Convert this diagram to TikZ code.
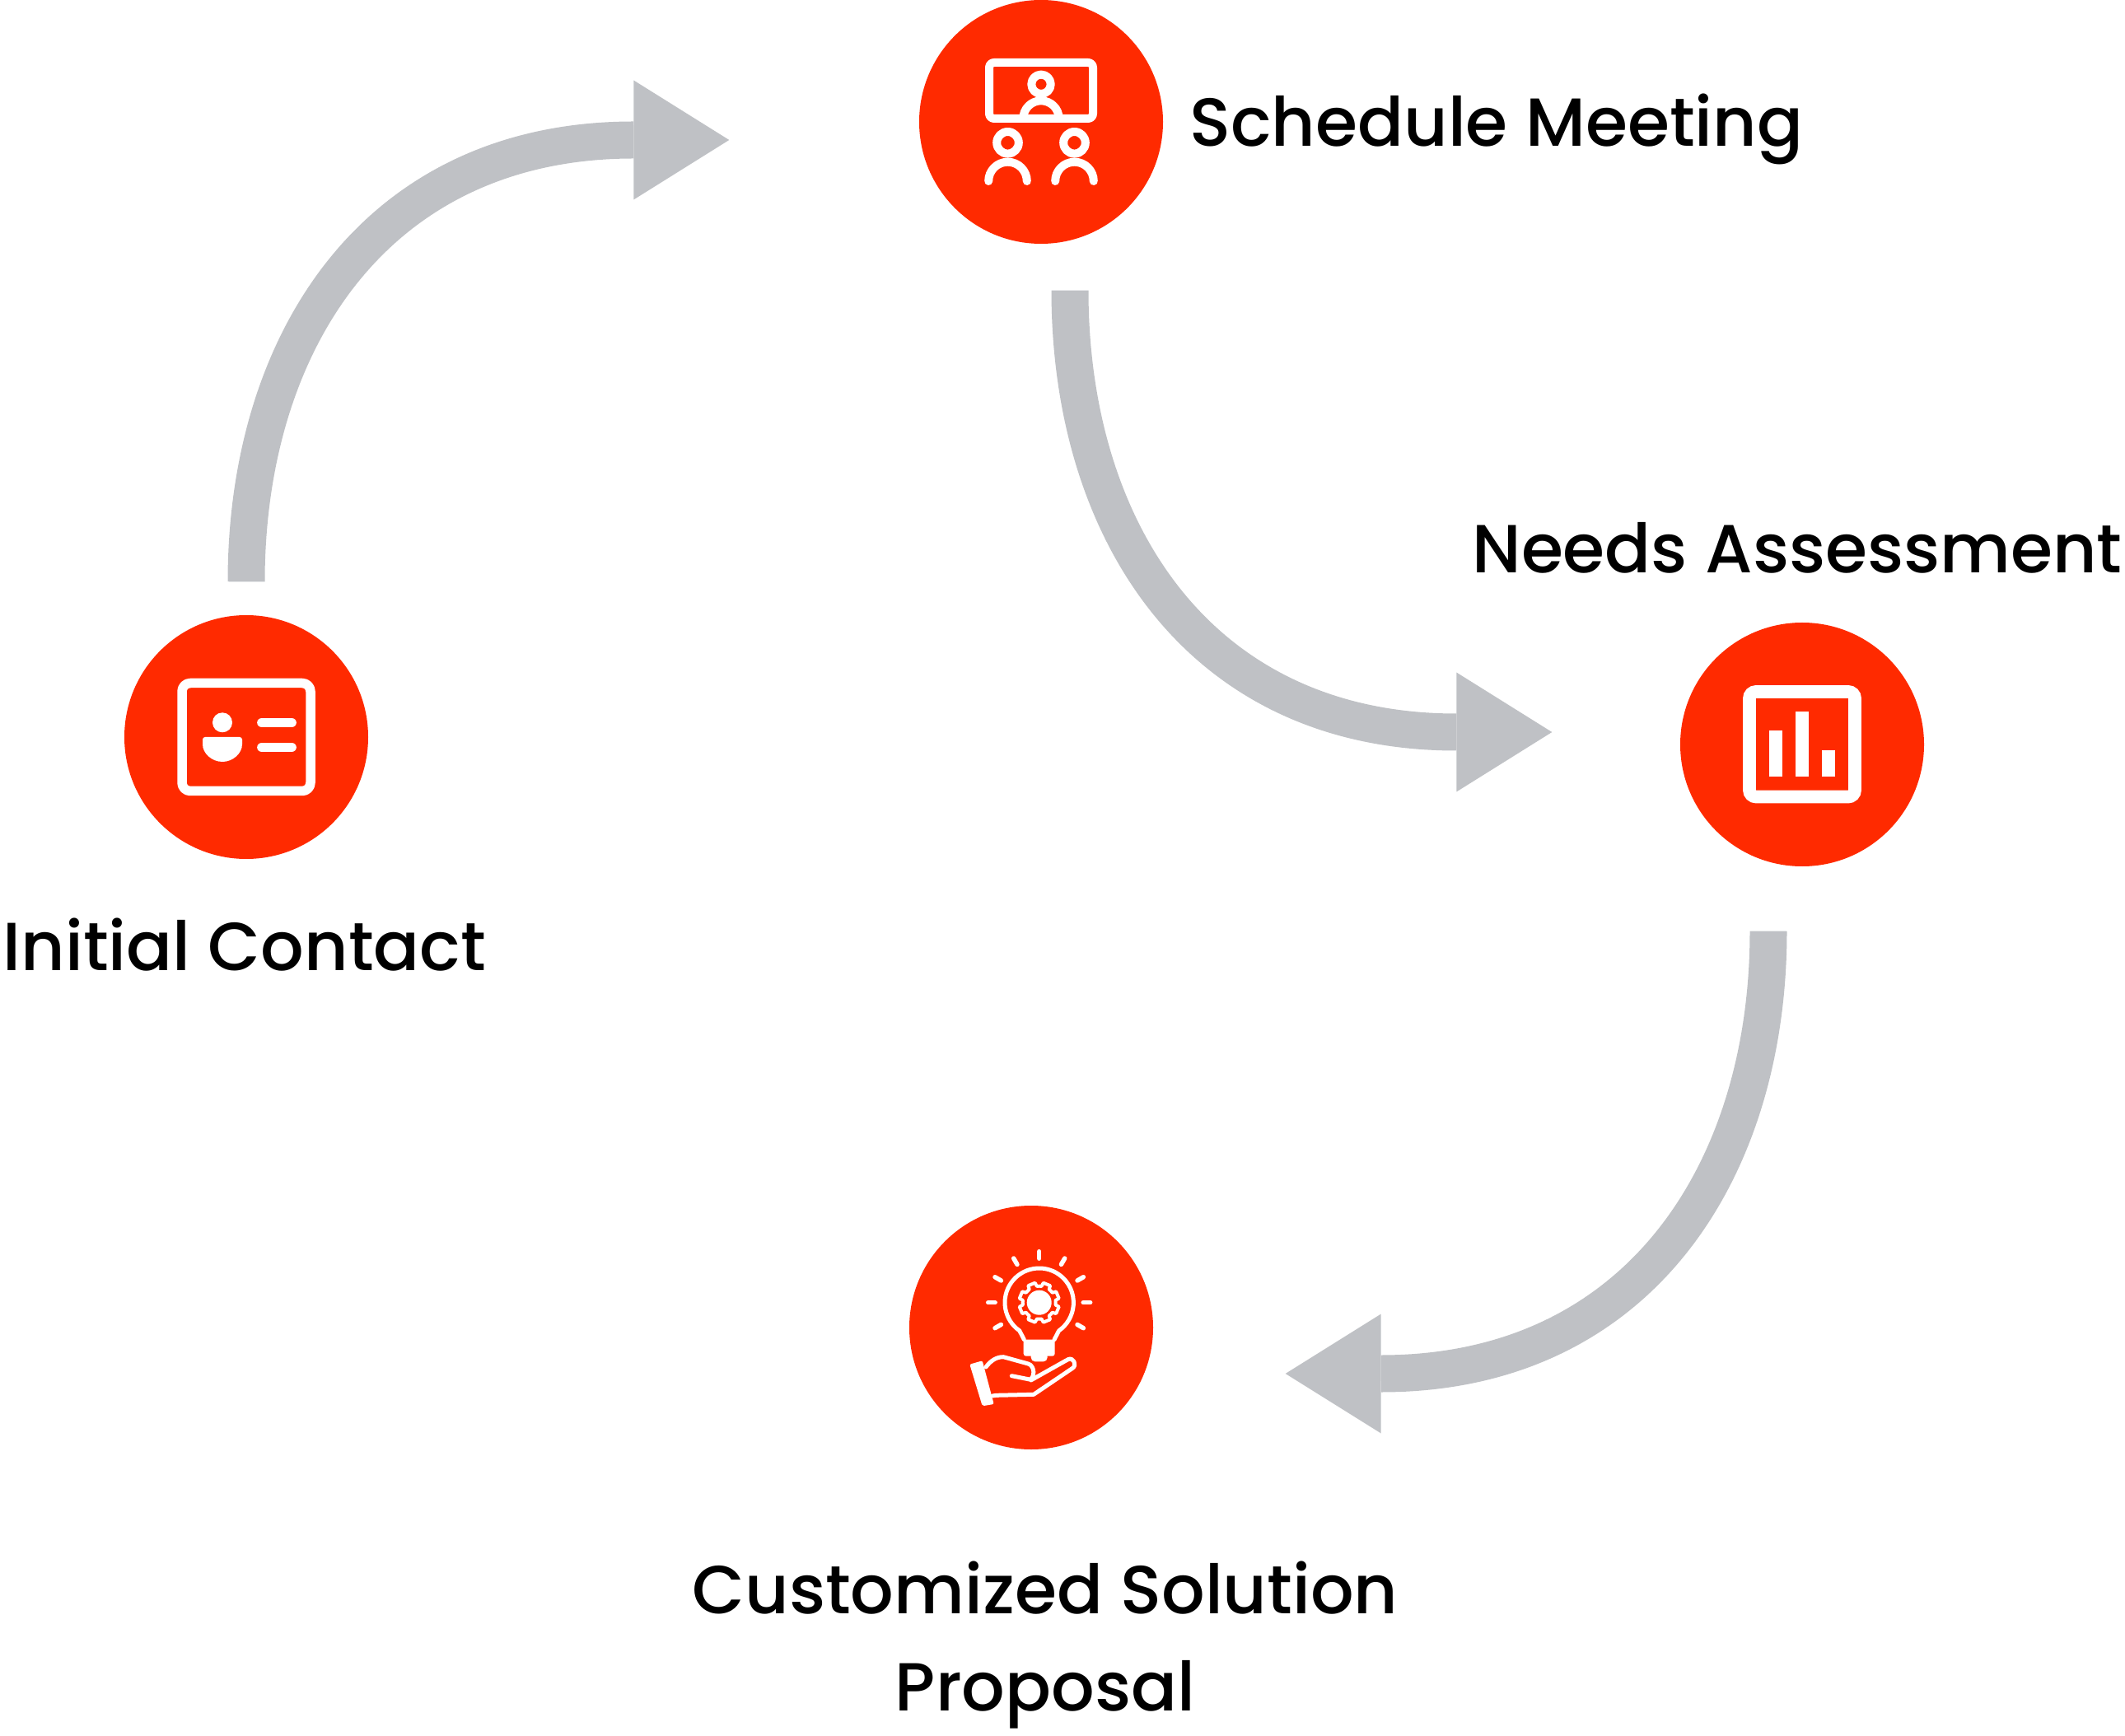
\documentclass[tikz,border=0pt]{standalone}
\usepackage{fontspec}
\setmainfont{Poppins}[UprightFont=* Medium]
\usetikzlibrary{arrows.meta,positioning}
\definecolor{signal}{RGB}{255,42,0}
\definecolor{pfeilgrau}{RGB}{191,193,197}

\begin{document}
\begin{tikzpicture}[
    stage/.style={circle, fill=signal, minimum size=2.96cm, inner sep=0pt},
    flow/.style={pfeilgrau, line width=0.45cm, -{Triangle[length=1.16cm, width=1.45cm, line width=0pt]}},
    lbl/.style={font=\fontsize{23.5}{33.6}\selectfont, inner sep=0pt},
    icon/.style={white, line width=0.1cm, line cap=round, line join=round}
]

    \useasboundingbox (0,0) rectangle (25.8,-21.08);

    % the four steps
    \node[stage] (contact)  at (2.99,-8.95) {};
    \node[stage] (schedule) at (12.64,-1.48) {};
    \node[stage] (needs)    at (21.88,-9.04) {};
    \node[stage] (proposal) at (12.52,-16.12) {};

    \node[lbl, anchor=base west] (schedule-txt) at ([xshift=0.31cm, yshift=-0.30cm]schedule.east) {Schedule Meeting};
    \node[lbl, anchor=base] (needs-txt) at ([xshift=-0.06cm, yshift=0.60cm]needs.north) {Needs Assessment};
    \node[lbl, anchor=base] (contact-txt) at ([xshift=-0.02cm, yshift=-1.35cm]contact.south) {Initial Contact};
    \node[lbl, anchor=base, align=center] (proposal-txt) at ([xshift=0.17cm, yshift=-3.17cm]proposal.south) {Customized Solution\\Proposal};

    % arrows
    \coordinate (a1s) at ([yshift=0.40cm]contact.north);
    \coordinate (a1e) at ([xshift=-2.30cm, yshift=-0.22cm]schedule.west);
    \coordinate (a2s) at ([xshift=0.35cm, yshift=-0.56cm]schedule.south);
    \coordinate (a2e) at ([xshift=-1.55cm, yshift=0.15cm]needs.west);
    \coordinate (a3s) at ([xshift=-0.41cm, yshift=-0.78cm]needs.south);
    \coordinate (a3e) at ([xshift=1.60cm, yshift=-0.56cm]proposal.east);

    \draw[flow] (a1s) .. controls +(0,2.9) and +(-4.3,0) .. (a1e);
    \draw[flow] (a2s) .. controls +(0,-2.9) and +(-4.3,0) .. (a2e);
    \draw[flow] (a3s) .. controls +(0,-2.9) and +(4.3,0) .. (a3e);

    % icon: meeting
    \begin{scope}[shift={(schedule.center)}, icon]
        \draw[rounded corners=0.06cm] (-0.63,0.04) rectangle (0.63,0.72);
        \draw (0,0.457) circle (0.117);
        \draw (-0.217,0.04) arc[start angle=180, end angle=0, radius=0.217];
        \foreach \s in {-1,1} {
            \draw (\s*0.405,-0.253) circle (0.133);
            \draw (\s*0.405-0.233,-0.72) arc[start angle=180, end angle=0, radius=0.233];
        }
    \end{scope}

    % icon: contact card
    \begin{scope}[shift={(contact.center)}]
        \draw[icon, line width=0.115cm, rounded corners=0.1cm] (-0.78,-0.655) rectangle (0.78,0.655);
        \fill[white] (-0.29,0.177) circle (0.12);
        \fill[white, rounded corners=0.03cm] (-0.53,0) -- (-0.05,0) -- (-0.05,-0.06)
            arc[start angle=0, end angle=-180, x radius=0.24, y radius=0.24] -- cycle;
        \draw[icon, line width=0.117cm] (0.19,0.175) -- (0.55,0.175);
        \draw[icon, line width=0.117cm] (0.19,-0.125) -- (0.55,-0.125);
    \end{scope}

    % icon: chart
    \begin{scope}[shift={(needs.center)}]
        \draw[white, line width=0.157cm, rounded corners=0.08cm] (-0.64,-0.635) rectangle (0.64,0.64);
        \fill[white] (-0.397,-0.393) rectangle (-0.24,0.167);
        \fill[white] (-0.08,-0.393) rectangle (0.08,0.403);
        \fill[white] (0.24,-0.393) rectangle (0.40,-0.073);
    \end{scope}

    % icon: idea in hand
    \begin{scope}[shift={(proposal.center)}]
        \begin{scope}[shift={(0.097,0.303)}]
            \foreach \a in {-30,0,...,210}
                \draw[icon, line width=0.055cm] (\a:0.535) -- (\a:0.62);
            \draw[icon, line width=0.05cm] (-0.183,-0.45) -- (235:0.417) arc[start angle=235, end angle=-55, radius=0.417] -- (0.183,-0.45);
            \fill[white, rounded corners=0.03cm] (-0.19,-0.45) rectangle (0.19,-0.65);
            \fill[white, rounded corners=0.05cm] (-0.1,-0.6) rectangle (0.1,-0.717);
            \draw[icon, line width=0.04cm] (0:0.2) \foreach \g in {0,45,...,315} {
                -- (\g+8:0.2) -- (\g+12:0.245) -- (\g+33:0.245) -- (\g+37:0.2) -- (\g+45:0.2) } -- cycle;
            \fill[white] (0,0) circle (0.15);
        \end{scope}
        \fill[white, rounded corners=0.02cm] (-0.747,-0.447) -- (-0.593,-0.403) -- (-0.453,-0.93) -- (-0.593,-0.953) -- cycle;
        \draw[icon, line width=0.05cm] (-0.55,-0.48) .. controls (-0.487,-0.397) and (-0.42,-0.357) .. (-0.337,-0.357)
            -- (-0.037,-0.44) .. controls (0.047,-0.463) and (0.047,-0.613) .. (-0.02,-0.63) -- (-0.237,-0.587);
        \draw[icon, line width=0.05cm] (-0.003,-0.64) -- (0.447,-0.387) .. controls (0.513,-0.353) and (0.563,-0.463) .. (0.497,-0.497)
            -- (0.03,-0.813) -- (-0.42,-0.823) -- (-0.47,-0.83);
    \end{scope}

\end{tikzpicture}
\end{document}
